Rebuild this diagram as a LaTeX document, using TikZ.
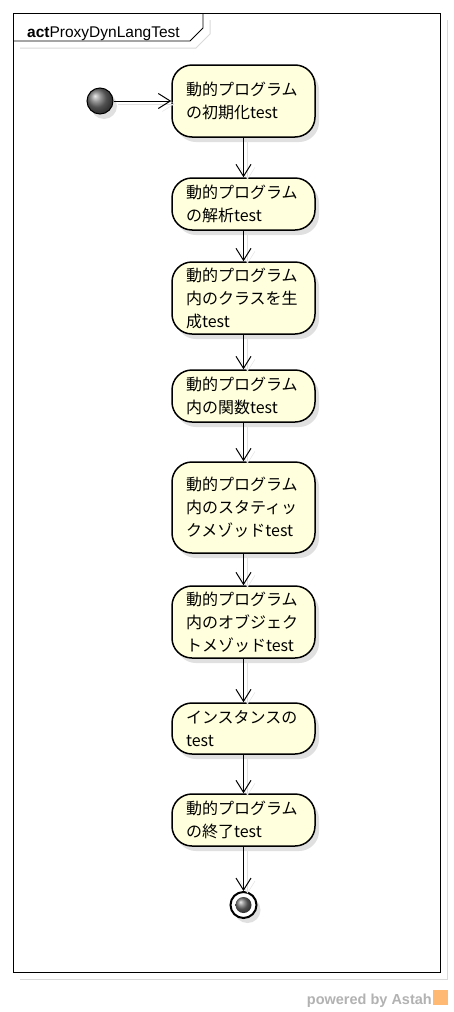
\documentclass[tikz,border=0pt]{standalone}
\usepackage{fontspec}
\setmainfont{Liberation Sans}
\newfontfamily\jpfont{Noto Sans CJK JP}
\usepackage{tikz}
\usetikzlibrary{positioning,arrows.meta,shadows}
\definecolor{actfill}{RGB}{255,255,221}

\begin{document}
\begin{tikzpicture}[x=1pt, y=-1pt, >={Straight Barb[length=12pt,width=15pt]}]
    \tikzset{
        actstep/.style={draw, line width=1.5pt, fill=actfill, rounded corners=20pt, text width=115pt, inner xsep=14pt, inner ysep=0pt, minimum height=#1, align=left, font=\jpfont\fontsize{16}{23}\selectfont, drop shadow={shadow xshift=4pt, shadow yshift=-5pt, fill=black!12, opacity=1}},
        flow/.style={draw, ->, line width=1pt, preaction={draw=black!12, transform canvas={shift={(4pt,-3pt)}}}},
        ball/.style={circle, shading=ball, ball color=black!55, inner sep=0pt}
    }
    \useasboundingbox (0,0) rectangle (453,1012);
    \fill[white] (0,0) rectangle (453,1012);

    % frame and title tab
    \draw[black!15, line width=1pt] (447,20) -- (447,979) -- (20,979);
    \draw[line width=0.8pt] (13,13) rectangle (440,972);
    \draw[black!15, line width=1pt] (20,48) -- (196,48) -- (210,34) -- (210,20);
    \draw[line width=0.8pt] (13,41) -- (190,41) -- (203,28) -- (203,13);
    \node[anchor=base west, inner sep=0pt, font=\fontsize{15.5}{15.5}\selectfont] (title) at (27,37) {\textbf{act}ProxyDynLangTest};

    % actions
    \node[actstep=72pt] (init) at (243.5,101) {動的プログラム\\の初期化test};
    \node[actstep=52pt, below=39.5pt of init] (parse) {動的プログラム\\の解析test};
    \node[actstep=72pt, below=30.5pt of parse] (makeclass) {動的プログラム\\内のクラスを生\\成test};
    \node[actstep=52pt, below=34.5pt of makeclass] (func) {動的プログラム\\内の関数test};
    \node[actstep=91pt, below=38.5pt of func] (staticm) {動的プログラム\\内のスタティッ\\クメゾッドtest};
    \node[actstep=72pt, below=31.5pt of staticm] (objm) {動的プログラム\\内のオブジェク\\トメゾッドtest};
    \node[actstep=51pt, below=43.5pt of objm] (inst) {インスタンスの\\test};
    \node[actstep=52pt, below=38.5pt of inst] (finish) {動的プログラム\\の終了test};

    % start and end
    \node[ball, draw, line width=1pt, minimum size=26pt, drop shadow={shadow xshift=4pt, shadow yshift=-5pt, fill=black!12, opacity=1}] (start) at (100,101) {};
    \node[circle, draw, line width=2pt, fill=white, minimum size=26pt, inner sep=0pt, drop shadow={shadow xshift=4pt, shadow yshift=-5pt, fill=black!12, opacity=1}] (stop) at (243.5,905) {};
    \node[ball, minimum size=16pt] (stopcore) at (stop) {};

    \path [flow] (start) -- (init);
    \path [flow] (init) -- (parse);
    \path [flow] (parse) -- (makeclass);
    \path [flow] (makeclass) -- (func);
    \path [flow] (func) -- (staticm);
    \path [flow] (staticm) -- (objm);
    \path [flow] (objm) -- (inst);
    \path [flow] (inst) -- (finish);
    \path [flow] (finish) -- (stop);

    % watermark
    \node[anchor=base east, inner sep=0pt, text=black!30, font=\bfseries\fontsize{14.5}{14.5}\selectfont] (powered) at (432,1004) {powered by Astah};
    \fill[orange!55] (433,990) rectangle (448,1005);
\end{tikzpicture}
\end{document}
